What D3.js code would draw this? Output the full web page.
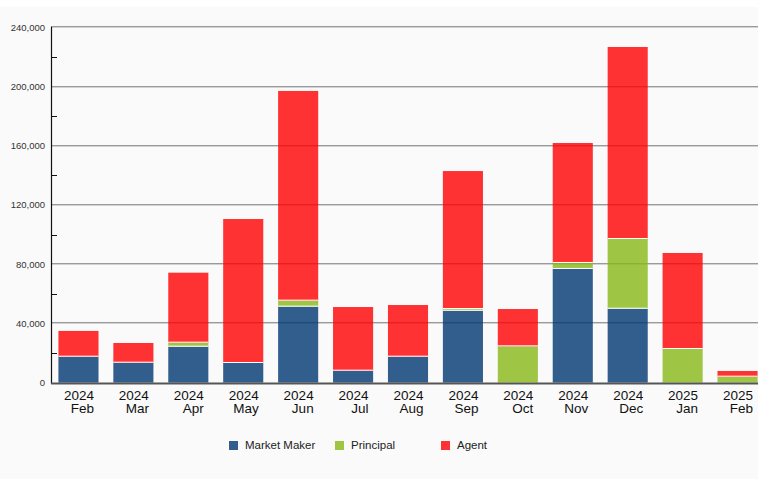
<!DOCTYPE html>
<html>
<head>
<meta charset="utf-8">
<script src="https://cdn.jsdelivr.net/npm/d3@7"></script>
<style>
  html, body { margin: 0; padding: 0; background: #ffffff; }
  svg { display: block; font-family: "Liberation Sans", Arial, sans-serif; }
</style>
</head>
<body>
<svg id="chart" width="758" height="479"></svg>
<script>
// ---- data ----
const years = ["2024","2024","2024","2024","2024","2024","2024","2024","2024","2024","2024","2025","2025"];
const months = ["Feb","Mar","Apr","May","Jun","Jul","Aug","Sep","Oct","Nov","Dec","Jan","Feb"];
const marketMaker = [17500, 13450, 24250, 13250, 51300, 8050, 17500, 48550, 0, 76750, 49900, 0, 0];
const principal   = [0, 0, 2700, 0, 4050, 0, 0, 1150, 24500, 4050, 47100, 22700, 4000];
const agent       = [17400, 13300, 47300, 97250, 141650, 43000, 34900, 93200, 25200, 81050, 129700, 64850, 3850];
const seriesNames = ["Market Maker", "Principal", "Agent"];
const seriesColors = ["#003773", "#87b816", "#ff0000"];
const yTicks = [0, 40000, 80000, 120000, 160000, 200000, 240000];
const yMinorTicks = [20000, 60000, 100000, 140000, 180000, 220000];

// ---- build ----
const svg = d3.select("#chart");
const W = 758, H = 479;
svg.append("rect").attr("x", 0).attr("y", 7).attr("width", W).attr("height", H - 7).attr("fill", "#fafafa");

const x0 = 51, yBase = 382.6, yTop = 27.3;
const keys = months.map((m, i) => i);
const x = d3.scaleBand().domain(keys).range([x0, 765]).paddingInner(0.27).paddingOuter(0.135);
const y = d3.scaleLinear().domain([0, 240000]).range([yBase, yTop]);

// gridlines
const grid = svg.append("g");
yTicks.filter(t => t > 0).forEach(t => {
  const yy = Math.round(y(t));
  grid.append("line").attr("x1", x0).attr("x2", W).attr("y1", yy - 0.5).attr("y2", yy - 0.5)
    .attr("stroke", "#9a9a9a").attr("stroke-width", 1);
  grid.append("line").attr("x1", x0).attr("x2", W).attr("y1", yy + 0.5).attr("y2", yy + 0.5)
    .attr("stroke", "#d2d2d2").attr("stroke-width", 1);
});

// stacked bars
const rows = keys.map(i => ({ i, mm: marketMaker[i], p: principal[i], a: agent[i] }));
const stack = d3.stack().keys(["mm", "p", "a"]);
const layers = stack(rows);
const barG = svg.append("g");
layers.forEach((layer, li) => {
  barG.selectAll(null).data(layer.filter(d => d[1] - d[0] > 0)).enter().append("rect")
    .attr("x", d => x(d.data.i))
    .attr("width", x.bandwidth())
    .attr("y", d => y(d[1]))
    .attr("height", d => y(d[0]) - y(d[1]))
    .attr("fill", seriesColors[li])
    .attr("fill-opacity", 0.8);
});
// white separators between stacked segments
layers.forEach((layer, li) => {
  if (li === 0) return;
  barG.selectAll(null).data(layer.filter(d => d[0] > 0 && d[1] - d[0] > 0)).enter().append("line")
    .attr("x1", d => x(d.data.i)).attr("x2", d => x(d.data.i) + x.bandwidth())
    .attr("y1", d => y(d[0]) - 0.5).attr("y2", d => y(d[0]) - 0.5)
    .attr("stroke", "#ffffff").attr("stroke-width", 1);
});

// y axis
const yAxis = d3.axisLeft(y).tickValues(yTicks).tickSize(0).tickPadding(6)
  .tickFormat(d3.format(","));
const yg = svg.append("g").attr("transform", `translate(${x0},0)`).call(yAxis);
yg.select(".domain").remove();
yg.selectAll("text").attr("font-size", "9.5px").attr("fill", "#333").attr("font-family", "Liberation Sans, Arial, sans-serif")
  .attr("x", -6);
svg.append("line").attr("x1", x0 + 0.5).attr("x2", x0 + 0.5).attr("y1", yTop - 0.5).attr("y2", yBase + 1.5)
  .attr("stroke", "#111").attr("stroke-width", 1.2);
yMinorTicks.forEach(t => {
  const yy = Math.round(y(t)) + 0.5;
  svg.append("line").attr("x1", x0).attr("x2", x0 + 6).attr("y1", yy).attr("y2", yy)
    .attr("stroke", "#111").attr("stroke-width", 1);
});

// x axis line
svg.append("line").attr("x1", x0).attr("x2", W).attr("y1", yBase + 0.7).attr("y2", yBase + 0.7)
  .attr("stroke", "#555").attr("stroke-width", 1.4);
svg.append("line").attr("x1", x0).attr("x2", W).attr("y1", yBase + 1.9).attr("y2", yBase + 1.9)
  .attr("stroke", "#aaa").attr("stroke-width", 1);

// x labels
const xAxis = d3.axisBottom(x).tickSize(0).tickFormat(() => "");
const xg = svg.append("g").attr("transform", `translate(0,${yBase})`).call(xAxis);
xg.select(".domain").remove();
xg.selectAll(".tick").each(function(i) {
  const t = d3.select(this);
  t.selectAll("text").remove();
  const tx = t.append("text").attr("text-anchor", "end").attr("font-size", "13.5px").attr("fill", "#111")
    .attr("font-family", "Liberation Sans, Arial, sans-serif");
  tx.append("tspan").attr("x", 15.5).attr("y", 17).text(years[i]);
  tx.append("tspan").attr("x", 15.5).attr("y", 30.5).text(months[i]);
});

// legend
const legendX = [229, 335, 441];
const lg = svg.append("g");
seriesNames.forEach((n, k) => {
  lg.append("rect").attr("x", legendX[k]).attr("y", 441).attr("width", 9).attr("height", 9)
    .attr("fill", seriesColors[k]).attr("fill-opacity", 0.8);
  lg.append("text").attr("x", legendX[k] + 16).attr("y", 448.5).attr("font-size", "11.5px")
    .attr("fill", "#222").text(n);
});
</script>
</body>
</html>
